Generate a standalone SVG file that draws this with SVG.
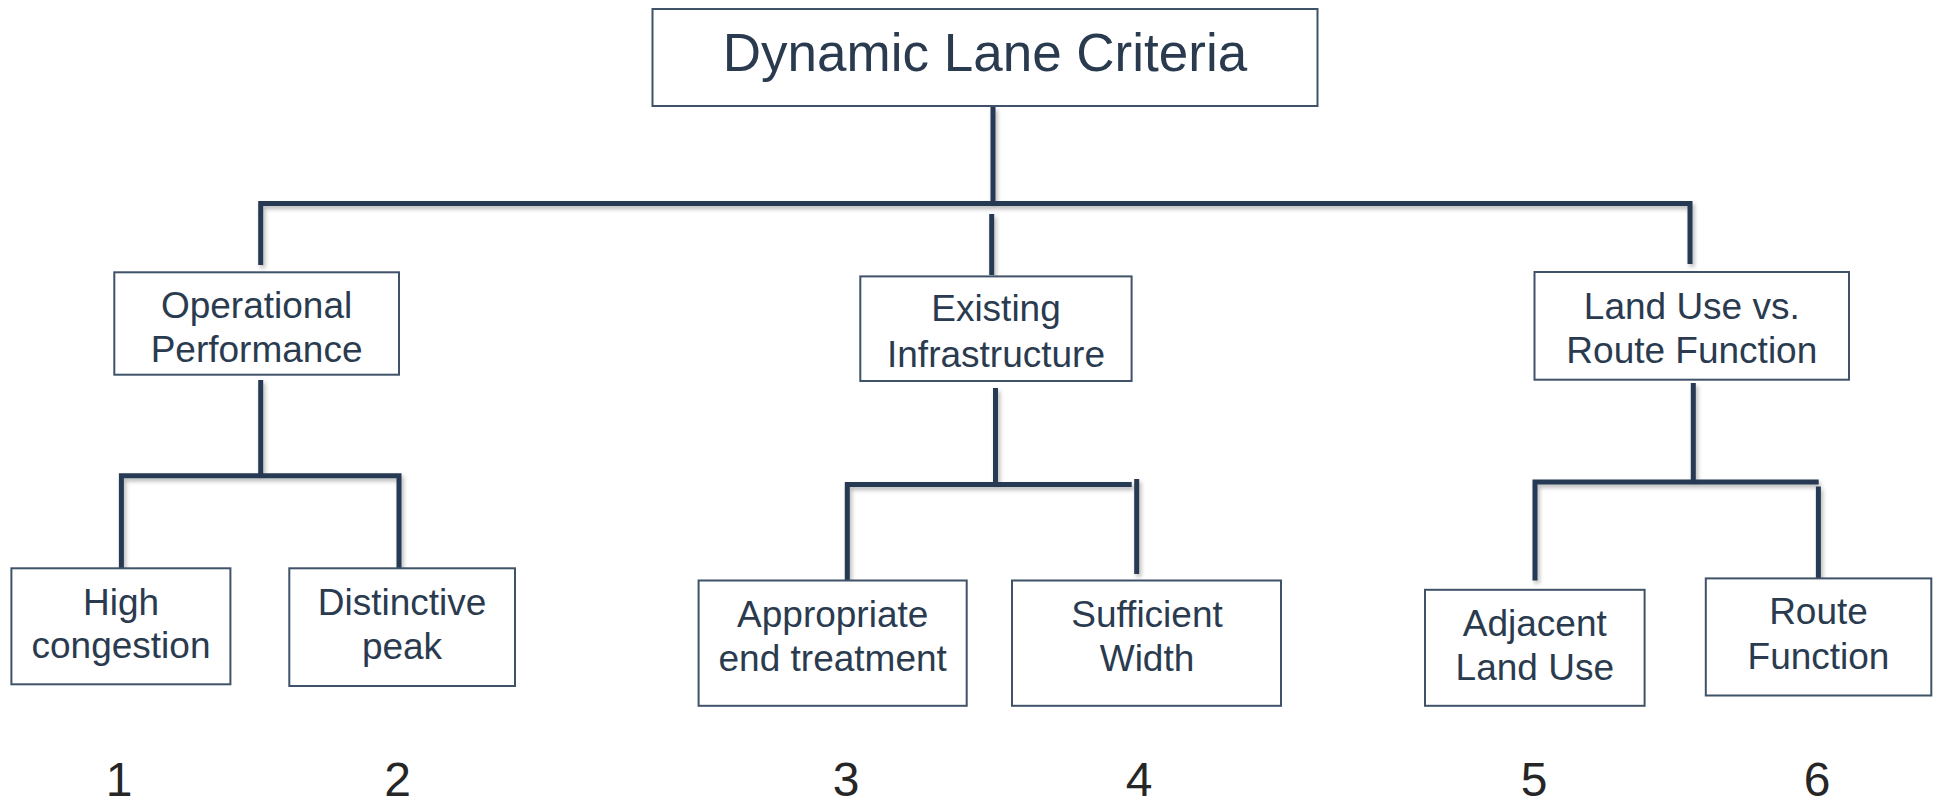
<svg xmlns="http://www.w3.org/2000/svg" width="1937" height="807" viewBox="0 0 1937 807">
  <defs>
    <filter id="sh" x="-20%" y="-20%" width="140%" height="140%">
      <feDropShadow dx="2" dy="3" stdDeviation="2" flood-color="#000" flood-opacity="0.28"/>
    </filter>
  </defs>
  <style>
    .box { fill: #ffffff; stroke: #3f5268; stroke-width: 2; }
    .t { font-family: "Liberation Sans", Arial, sans-serif; fill: #2a3b50; text-anchor: middle; }
    .t37 { font-size: 37px; }
    .t53 { font-size: 53px; }
    .num { font-family: "Liberation Sans", Arial, sans-serif; font-size: 48px; fill: #262626; text-anchor: middle; }
    .c { fill: none; stroke: #263a52; stroke-width: 5; stroke-linecap: butt; stroke-linejoin: miter; }
  </style>
  <rect width="1937" height="807" fill="#ffffff"/>

  <g id="connectors" filter="url(#sh)">
    <path class="c" d="M993,107 V203.5"/>
    <path class="c" d="M260.7,265 V203.5 H1690 V264"/>
    <path class="c" d="M991.7,214 V275"/>
    <path class="c" d="M260.7,380 V475.7"/>
    <path class="c" d="M121.4,570 V475.7 H399 V570"/>
    <path class="c" d="M995.5,388 V483"/>
    <path class="c" d="M847.3,580 V484.6 H1131.7"/>
    <path class="c" d="M1136.7,479 V574"/>
    <path class="c" d="M1693.3,383 V480"/>
    <path class="c" d="M1535,580.5 V482 H1818.7"/>
    <path class="c" d="M1818.4,486.5 V581"/>
  </g>

  <g id="node-root">
    <rect class="box" x="652.5" y="9" width="665" height="97"/>
    <text class="t t53" x="985" y="71">Dynamic Lane Criteria</text>
  </g>

  <g id="node-operational">
    <rect class="box" x="114.3" y="272.3" width="284.7" height="102.4"/>
    <text class="t t37" x="256.6" y="317.7">Operational</text>
    <text class="t t37" x="256.6" y="362">Performance</text>
  </g>

  <g id="node-existing">
    <rect class="box" x="860.3" y="276.4" width="271.3" height="104.6"/>
    <text class="t t37" x="996" y="321.2">Existing</text>
    <text class="t t37" x="996" y="367">Infrastructure</text>
  </g>

  <g id="node-landuse">
    <rect class="box" x="1534.5" y="272" width="314.5" height="107.7"/>
    <text class="t t37" x="1691.8" y="318.8">Land Use vs.</text>
    <text class="t t37" x="1691.8" y="362.5">Route Function</text>
  </g>

  <g id="node-high">
    <rect class="box" x="11.4" y="568.3" width="219" height="116"/>
    <text class="t t37" x="121" y="615">High</text>
    <text class="t t37" x="121" y="658">congestion</text>
  </g>

  <g id="node-distinctive">
    <rect class="box" x="289.3" y="568.3" width="225.7" height="117.7"/>
    <text class="t t37" x="402" y="615">Distinctive</text>
    <text class="t t37" x="402" y="659">peak</text>
  </g>

  <g id="node-appropriate">
    <rect class="box" x="698.6" y="580.5" width="268.1" height="125.3"/>
    <text class="t t37" x="832.7" y="626.6">Appropriate</text>
    <text class="t t37" x="832.7" y="670.7">end treatment</text>
  </g>

  <g id="node-sufficient">
    <rect class="box" x="1012" y="580.5" width="269" height="125.3"/>
    <text class="t t37" x="1147" y="626.6">Sufficient</text>
    <text class="t t37" x="1147" y="670.7">Width</text>
  </g>

  <g id="node-adjacent">
    <rect class="box" x="1425" y="589.8" width="219.6" height="116"/>
    <text class="t t37" x="1534.8" y="636.3">Adjacent</text>
    <text class="t t37" x="1534.8" y="680.3">Land Use</text>
  </g>

  <g id="node-route">
    <rect class="box" x="1705.8" y="578.4" width="225.5" height="117.1"/>
    <text class="t t37" x="1818.5" y="624.2">Route</text>
    <text class="t t37" x="1818.5" y="669">Function</text>
  </g>

  <g id="numbers">
    <text class="num" x="119" y="796">1</text>
    <text class="num" x="397.5" y="796">2</text>
    <text class="num" x="846" y="796">3</text>
    <text class="num" x="1139" y="796">4</text>
    <text class="num" x="1534" y="796">5</text>
    <text class="num" x="1817" y="796">6</text>
  </g>
</svg>
